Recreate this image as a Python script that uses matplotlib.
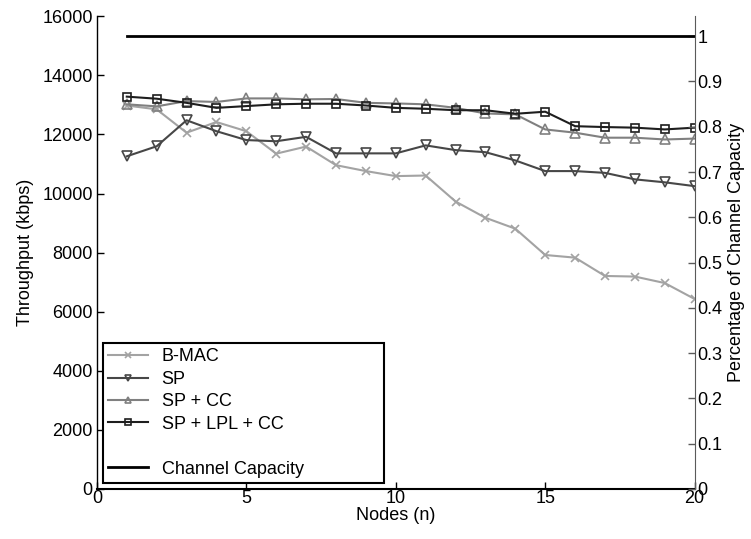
import matplotlib
matplotlib.use("Agg")
import matplotlib.pyplot as plt
from matplotlib.lines import Line2D

plt.rcParams['font.family'] = ['Liberation Sans', 'DejaVu Sans']

nodes = list(range(1, 21))
bmac = [12980, 12850, 12060, 12420, 12110, 11350, 11590, 10960, 10760, 10590,
        10610, 9730, 9180, 8810, 7920, 7830, 7210, 7190, 6970, 6430]
sp = [11260, 11600, 12480, 12110, 11810, 11770, 11920, 11360, 11360, 11360,
      11630, 11470, 11400, 11120, 10760, 10760, 10700, 10480, 10380, 10250]
sp_cc = [13020, 12950, 13130, 13100, 13220, 13220, 13190, 13200, 13070, 13050,
         13020, 12900, 12710, 12680, 12170, 12060, 11890, 11890, 11830, 11860]
sp_lpl_cc = [13280, 13210, 13070, 12900, 12960, 13020, 13040, 13040, 12980, 12900,
             12870, 12820, 12820, 12700, 12770, 12280, 12250, 12230, 12170, 12230]
capacity_x = [1, 20]
capacity_pct = [1.0, 1.0]

labels = ['B-MAC', 'SP', 'SP + CC', 'SP + LPL + CC', 'Channel Capacity']
x_ticks = [0, 5, 10, 15, 20]
y_ticks = [0, 2000, 4000, 6000, 8000, 10000, 12000, 14000, 16000]
pct_ticks = [0, 0.1, 0.2, 0.3, 0.4, 0.5, 0.6, 0.7, 0.8, 0.9, 1]
pct_labels = ['0', '0.1', '0.2', '0.3', '0.4', '0.5', '0.6', '0.7', '0.8', '0.9', '1']

FS = 13
fig = plt.figure(figsize=(7.51, 5.39), dpi=100)
ax = fig.add_axes([0.129, 0.0928, 0.796, 0.877])
ax2 = ax.twinx()

l1, = ax.plot(nodes, bmac, color='#a3a3a3', marker='x', ms=5.5, mew=1.2, lw=1.5)
l2, = ax.plot(nodes, sp, color='#474747', marker='v', ms=6.5, mfc='none', mew=1.2, lw=1.5)
l3, = ax.plot(nodes, sp_cc, color='#808080', marker='^', ms=6.5, mfc='none', mew=1.2, lw=1.5)
l4, = ax.plot(nodes, sp_lpl_cc, color='#1e1e1e', marker='s', ms=6, mfc='none', mew=1.2, lw=1.5)
l5, = ax2.plot(capacity_x, capacity_pct, color='black', lw=2)

ax.set_xlim(0, 20)
ax.set_ylim(0, 16000)
ax2.set_ylim(0, 1.044)
ax.set_xticks(x_ticks)
ax.set_yticks(y_ticks)
ax2.set_yticks(pct_ticks)
ax2.set_yticklabels(pct_labels)

for a in (ax, ax2):
    a.spines['top'].set_visible(False)
    a.tick_params(direction='in', length=5, width=1, labelsize=FS, pad=3)
ax.tick_params(axis='x', pad=1)
ax.spines['right'].set_visible(False)
ax2.spines['left'].set_visible(False)
ax2.spines['bottom'].set_visible(False)
ax2.spines['right'].set_color('#5a5a5a')
ax2.tick_params(axis='y', colors='#5a5a5a', labelcolor='black', pad=2)
ax.spines['left'].set_linewidth(1)
ax.spines['bottom'].set_linewidth(1.5)

ax.set_xlabel('Nodes (n)', fontsize=FS, labelpad=0)
ax.set_ylabel('Throughput (kbps)', fontsize=FS, labelpad=6)
ax2.set_ylabel('Percentage of Channel Capacity', fontsize=FS, labelpad=4)

blank = Line2D([], [], color='none')
leg = ax2.legend([l1, l2, l3, l4, blank, l5],
                 ['B-MAC', 'SP', 'SP + CC', 'SP + LPL + CC', ' ', 'Channel Capacity'],
                 loc='lower left', bbox_to_anchor=(0.01, 0.0127, 0.47, 0.29),
                 mode='expand', fontsize=FS, frameon=True, fancybox=False,
                 borderaxespad=0, handlelength=2.2, handletextpad=0.75,
                 labelspacing=0.3, borderpad=0.3, markerscale=0.7)
leg.get_frame().set_edgecolor('black')
leg.get_frame().set_linewidth(1.5)
leg.get_frame().set_alpha(1)

fig.savefig('out.png', dpi=100)
